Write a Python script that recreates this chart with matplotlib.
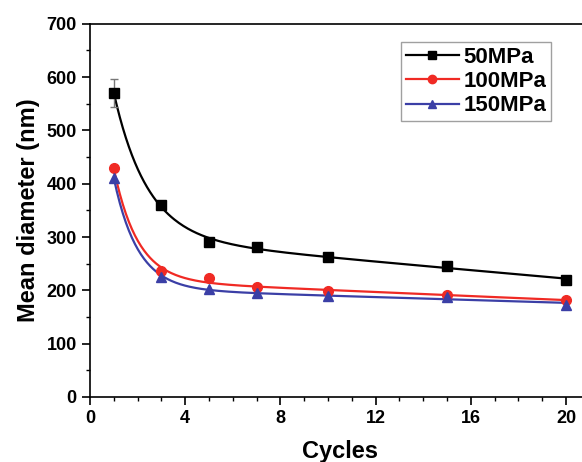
import numpy as np
import matplotlib
matplotlib.use("Agg")
import matplotlib.pyplot as plt
from matplotlib.ticker import MultipleLocator

plt.rcParams['font.family'] = ['Liberation Sans', 'DejaVu Sans']
plt.rcParams['font.weight'] = 'bold'

# Mean grain diameter vs. number of cycles
cycles = [1, 3, 5, 7, 10, 15, 20]
d_50 = [570, 360, 290, 281, 263, 246, 219]
d_100 = [429, 236, 223, 207, 198, 191, 182]
d_150 = [411, 225, 202, 195, 190, 188, 173]
err_50 = [27, 0, 0, 0, 0, 0, 0]

labels = ['50MPa', '100MPa', '150MPa']
colors = ['black', '#f02a24', '#3b3fa6']
markers = ['s', 'o', '^']


def expdec2(xs, ys, n=300):
    # y = y0 + A1*exp(-x/t1) + A2*exp(-x/t2), least squares over a (t1, t2) grid
    x = np.asarray(xs, float)
    y = np.asarray(ys, float)
    best = None
    for t1 in np.geomspace(1.0, 4, 50):
        for t2 in np.geomspace(8, 300, 50):
            M = np.column_stack([np.ones_like(x), np.exp(-x / t1), np.exp(-x / t2)])
            coef, *_ = np.linalg.lstsq(M, y, rcond=None)
            r = ((M @ coef - y) ** 2).sum()
            if best is None or r < best[0]:
                best = (r, t1, t2, coef)
    _, t1, t2, coef = best
    xf = np.linspace(x.min(), x.max(), n)
    yf = coef[0] + coef[1] * np.exp(-xf / t1) + coef[2] * np.exp(-xf / t2)
    return xf, yf


fig = plt.figure(figsize=(5.82, 4.62), dpi=100)
ax = fig.add_axes([0.1546, 0.1407, 0.859, 0.808])

for ys, lab, c, mk in zip([d_50, d_100, d_150], labels, colors, markers):
    fx, fy = expdec2(cycles, ys)
    ax.plot(fx, fy, color=c, lw=1.6, zorder=2)
    ax.plot(cycles, ys, linestyle='none', marker=mk, color=c, ms=7, zorder=3)
    # legend proxy
    ax.plot([], [], color=c, lw=1.6, marker=mk, ms=6, label=lab)

ax.errorbar(cycles[:1], d_50[:1], yerr=err_50[:1], fmt='none', ecolor='#777777',
            elinewidth=1, capsize=3, zorder=2)

ax.set_xlim(0, 21)
ax.set_ylim(0, 700)
ax.xaxis.set_major_locator(MultipleLocator(4))
ax.xaxis.set_minor_locator(MultipleLocator(1))
ax.yaxis.set_major_locator(MultipleLocator(100))
ax.yaxis.set_minor_locator(MultipleLocator(50))
ax.tick_params(which='major', direction='out', length=6, width=1.2, labelsize=13)
ax.tick_params(which='minor', direction='out', length=3, width=1.0)
ax.tick_params(top=False, right=False)
for s in ax.spines.values():
    s.set_linewidth(1.2)

ax.set_xlabel('Cycles', fontsize=17, fontweight='bold', labelpad=9)
ax.set_ylabel('Mean diameter (nm)', fontsize=17, fontweight='bold', labelpad=5)

leg = ax.legend(loc='upper right', bbox_to_anchor=(0.922, 0.95), fontsize=16,
                frameon=True, fancybox=False, edgecolor='#888888',
                handlelength=2.4, handletextpad=0.2, borderpad=0.2,
                labelspacing=0.15, borderaxespad=0)
leg.get_frame().set_linewidth(1.0)
for t in leg.get_texts():
    t.set_fontweight('bold')

fig.savefig('out.png', dpi=100)
